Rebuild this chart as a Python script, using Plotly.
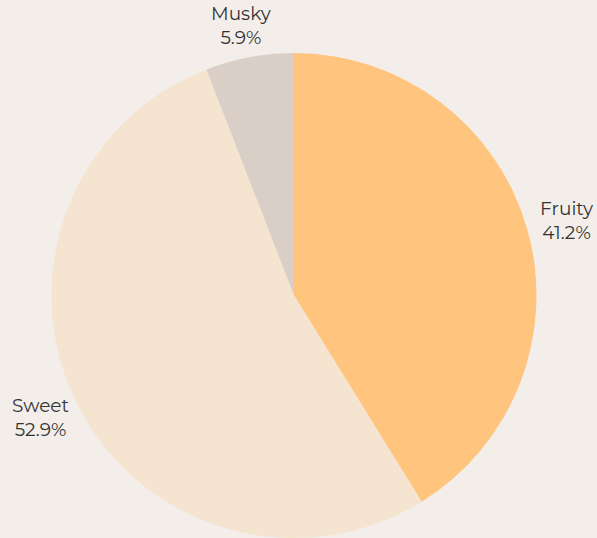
import math
import plotly.graph_objects as go

labels = ["Fruity", "Sweet", "Musky"]
values = [7, 9, 1]
colors = ["#FFC47D", "#F5E4D0", "#D9CFC6"]

W, H = 597, 538
ML, MR, MT, MB = 51, 60, 53, 0
FONT = "Montserrat, Lato, sans-serif"

fig = go.Figure(go.Pie(
    labels=labels,
    values=values,
    marker=dict(colors=colors, line=dict(width=0)),
    sort=False,
    direction="clockwise",
    rotation=0,
    textinfo="none",
    hoverinfo="label+percent",
    showlegend=False,
))

# labels placed along each slice's mid-angle, just outside the pie
pw, ph = W - ML - MR, H - MT - MB
r_px = min(pw, ph) / 2
gap = 12          # px between pie edge and label anchor
half_w, half_h = 29, 20   # approx half size of a two-line label box
total = sum(values)
cum = 0
annotations = []
for lab, v in zip(labels, values):
    mid = (cum + v / 2) / total * 2 * math.pi
    cum += v
    s, c = math.sin(mid), math.cos(mid)
    R = r_px + gap
    annotations.append(dict(
        x=0.5 + R / pw * s, y=0.5 + R / ph * c,
        xref="paper", yref="paper",
        xanchor="center", yanchor="middle",
        xshift=s * half_w, yshift=c * half_h,
        text=f"{lab}<br>{v / total * 100:.1f}%",
        showarrow=False,
        font=dict(size=18.5, color="#333333", family=FONT),
    ))

fig.update_layout(
    width=W, height=H,
    margin=dict(l=ML, r=MR, t=MT, b=MB),
    paper_bgcolor="#F3EEEA",
    plot_bgcolor="#F3EEEA",
    font=dict(family=FONT, color="#333333"),
    annotations=annotations,
)
fig.write_html(
    "out.html",
    config={"displayModeBar": False},
    post_script="document.body.style.margin='0';document.body.style.background='#F3EEEA';",
)
